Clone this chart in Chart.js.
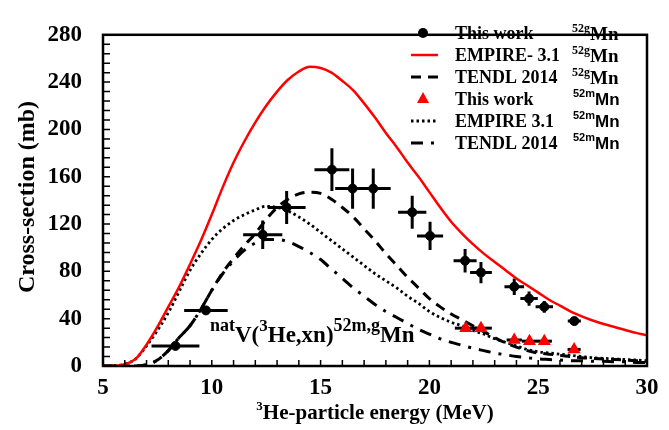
<!DOCTYPE html>
<html>
<head>
  <title>natV(3He,xn)52m,gMn</title>
  <script src="https://cdn.jsdelivr.net/npm/chart.js"></script>
  <style>body { margin: 0; background: #fff; }</style>
</head>
<body>
  <canvas id="chart" width="669" height="430"></canvas>
  <script>
    // energie (MeV) des courbes theoriques
    const energies = [5, 5.5, 6, 6.5, 7, 7.5, 8, 8.5, 9, 9.5, 10, 10.5, 11, 11.5, 12, 12.5, 13, 13.5, 14, 14.5,
      15, 15.5, 16, 16.5, 17, 17.5, 18, 18.5, 19, 19.5, 20, 20.5, 21, 21.5, 22, 22.5, 23, 23.5, 24, 24.5,
      25, 25.5, 26, 26.5, 27, 27.5, 28, 28.5, 29, 29.5, 30];
    const empire52g = [0, 0, 1.5, 6, 18, 33, 50, 67, 86, 106, 128, 151, 172, 190, 206, 220, 232, 242, 249, 253,
      252, 248, 241, 233, 222, 210, 197, 185, 172, 160, 147, 134, 122, 112, 103, 95, 88, 81, 74, 68,
      62, 56, 51, 46, 42, 38.5, 35.5, 33, 30.5, 28, 26];
    const tendl52g = [0, 0, 0, 0, 1, 5, 13, 24, 34, 48, 64, 79, 91, 102, 112, 124, 134, 141, 145.5, 147,
      146, 141, 134, 126, 116, 106, 95, 85, 75, 66, 57, 50, 44, 39, 34, 29, 24, 19.5, 16, 13,
      11, 10, 9, 8, 7, 6.5, 6, 5.5, 5, 4.5, 4];
    const empire52m = [0, 0.3, 1.5, 6, 17, 30, 45, 63, 81, 95, 107, 116, 123, 128, 132, 135, 134, 131, 126, 120,
      113, 106, 99, 92, 85, 78, 72, 66, 59, 53, 46, 41, 37, 34, 30, 27, 23, 20, 17, 14,
      12, 11, 10, 9, 8, 7, 6.5, 6, 5.5, 5, 4.5];
    const tendl52m = [0, 0, 0, 0, 1, 5, 13, 24, 34, 48, 64, 78, 89, 98, 104, 107, 107, 105, 101, 96,
      90, 82, 74, 66, 59, 52, 46, 41, 36, 31, 27, 23, 20, 17.5, 15, 13, 11, 9.5, 8, 7,
      6, 5.5, 5, 4.5, 4.5, 4, 4, 3.5, 3.5, 3, 3];

    // mesures (ce travail)
    const gEnergy = [8.33, 9.73, 12.34, 13.44, 15.52, 16.47, 17.42, 19.21, 20.03, 21.64, 22.37, 23.9, 24.58, 25.28, 26.66];
    const gValue = [17, 47, 111, 134, 166, 150, 150, 130, 110, 89, 79, 67, 57, 50, 38];
    const gEnergyErr = [1.1, 1.0, 0.9, 0.87, 0.8, 0.8, 0.8, 0.65, 0.6, 0.53, 0.5, 0.45, 0.4, 0.4, 0.3];
    const gValueErr = [2, 3, 12, 14, 18, 17, 17, 14, 12, 10, 9, 7, 6, 5, 3];

    const mEnergy = [21.67, 22.37, 23.9, 24.6, 25.28, 26.65];
    const mValue = [32, 32, 22, 21, 21, 14];
    const mEnergyErr = [0.5, 0.5, 0.35, 0.35, 0.35, 0.3];

    const xTicks = [5, 10, 15, 20, 25, 30];
    const yTicks = [0, 40, 80, 120, 160, 200, 240, 280];

    const legendNames = ['This work', 'EMPIRE- 3.1', 'TENDL 2014', 'This work', 'EMPIRE 3.1', 'TENDL 2014'];
    const legendIso = ['52g', '52g', '52g', '52m', '52m', '52m'];

    const SERIF = '"Liberation Serif", "Times New Roman", serif';
    const SANS = '"Liberation Sans", Arial, sans-serif';

    const pts = (xs, ys) => xs.map((x, i) => ({ x: x, y: ys[i] }));

    function drawParts(ctx, x, y, parts) {
      parts.forEach(p => {
        ctx.font = p[1];
        ctx.fillText(p[0], x, y + p[2]);
        x += ctx.measureText(p[0]).width;
      });
      return x;
    }

    const decor = {
      id: 'decor',
      beforeDatasetsDraw(chart) {
        const ctx = chart.ctx, sx = chart.scales.x, sy = chart.scales.y;
        ctx.save();
        ctx.strokeStyle = '#000';
        ctx.lineWidth = 3;
        gEnergy.forEach((e, i) => {
          const px = sx.getPixelForValue(e), py = sy.getPixelForValue(gValue[i]);
          ctx.beginPath();
          ctx.moveTo(sx.getPixelForValue(e - gEnergyErr[i]), py);
          ctx.lineTo(sx.getPixelForValue(e + gEnergyErr[i]), py);
          ctx.moveTo(px, sy.getPixelForValue(gValue[i] - gValueErr[i]));
          ctx.lineTo(px, sy.getPixelForValue(gValue[i] + gValueErr[i]));
          ctx.stroke();
        });
        mEnergy.forEach((e, i) => {
          const py = sy.getPixelForValue(mValue[i]);
          ctx.beginPath();
          ctx.moveTo(sx.getPixelForValue(e - mEnergyErr[i]), py);
          ctx.lineTo(sx.getPixelForValue(e + mEnergyErr[i]), py);
          ctx.stroke();
        });
        ctx.restore();
      },
      afterDraw(chart) {
        const ctx = chart.ctx, a = chart.chartArea, sx = chart.scales.x, sy = chart.scales.y;
        ctx.save();
        // cadre + graduations internes
        ctx.strokeStyle = '#000';
        ctx.lineWidth = 2.5;
        ctx.setLineDash([]);
        ctx.strokeRect(a.left, a.top, a.right - a.left, a.bottom - a.top);
        ctx.lineWidth = 1.5;
        ctx.beginPath();
        for (let v = 6; v < 30; v++) {
          const px = sx.getPixelForValue(v);
          ctx.moveTo(px, a.bottom);
          ctx.lineTo(px, a.bottom - 6);
        }
        for (let v = 8; v < 280; v += 8) {
          const py = sy.getPixelForValue(v);
          ctx.moveTo(a.left, py);
          ctx.lineTo(a.left + 7, py);
        }
        ctx.stroke();

        // legende
        const order = [0, 2, 3, 1, 4, 5];
        ctx.fillStyle = '#000';
        ctx.textBaseline = 'middle';
        legendNames.forEach((name, i) => {
          const y = 33 + i * 22;
          const ds = chart.data.datasets[order[i]];
          if (ds.showLine) {
            ctx.save();
            ctx.strokeStyle = ds.borderColor;
            ctx.lineWidth = ds.borderWidth;
            ctx.setLineDash(ds.borderDash || []);
            ctx.beginPath();
            ctx.moveTo(411, y);
            ctx.lineTo(438, y);
            ctx.stroke();
            ctx.restore();
          } else {
            ctx.save();
            ctx.fillStyle = ds.backgroundColor;
            ctx.beginPath();
            if (ds.pointStyle === 'triangle') {
              ctx.moveTo(423, y - 7);
              ctx.lineTo(429, y + 4);
              ctx.lineTo(417, y + 4);
            } else {
              ctx.arc(423, y, 5, 0, Math.PI * 2);
            }
            ctx.fill();
            ctx.restore();
          }
          ctx.textAlign = 'left';
          ctx.font = 'bold 18px ' + SERIF;
          ctx.fillText(name, 455, y + 1);
          if (i < 3) {
            drawParts(ctx, 572, y + 1, [[legendIso[i], 'bold 12px ' + SERIF, -5], ['Mn', 'bold 19px ' + SERIF, 1]]);
          } else {
            drawParts(ctx, 573, y + 1, [[legendIso[i], 'bold 11px ' + SANS, -6], ['Mn', 'bold 17px ' + SANS, 0]]);
          }
        });

        // reaction
        ctx.textBaseline = 'alphabetic';
        drawParts(ctx, 210, 342, [
          ['nat', 'bold 18px ' + SERIF, -11],
          ['V(', 'bold 23px ' + SERIF, 0],
          ['3', 'bold 17px ' + SERIF, -11],
          ['He,xn)', 'bold 23px ' + SERIF, 0],
          ['52m,g', 'bold 18px ' + SERIF, -11],
          ['Mn', 'bold 23px ' + SERIF, 0]
        ]);

        // titres des axes
        const main = 'He-particle energy (MeV)';
        ctx.font = 'bold 13px ' + SERIF;
        const supW = ctx.measureText('3').width;
        ctx.font = 'bold 21px ' + SERIF;
        const total = supW + ctx.measureText(main).width;
        drawParts(ctx, (a.left + a.right) / 2 - total / 2, 419, [
          ['3', 'bold 13px ' + SERIF, -9],
          [main, 'bold 21px ' + SERIF, 0]
        ]);
        ctx.translate(28, 197);
        ctx.rotate(-Math.PI / 2);
        ctx.textAlign = 'center';
        ctx.textBaseline = 'middle';
        ctx.font = 'bold 24px ' + SERIF;
        ctx.fillText('Cross-section (mb)', 0, 0);
        ctx.restore();
      }
    };

    const ctx = document.getElementById('chart').getContext('2d');
    const chart = new Chart(ctx, {
      type: 'scatter',
      data: {
        datasets: [
          { label: 'This work 52gMn', data: pts(gEnergy, gValue), pointStyle: 'circle', pointRadius: 4.5,
            backgroundColor: '#000', borderColor: '#000', showLine: false },
          { label: 'This work 52mMn', data: pts(mEnergy, mValue), pointStyle: 'triangle', pointRadius: 7.5,
            backgroundColor: '#ff0000', borderColor: '#ff0000', borderWidth: 0, showLine: false },
          { label: 'EMPIRE- 3.1 52gMn', data: pts(energies, empire52g), showLine: true, pointRadius: 0,
            borderColor: '#ff0000', backgroundColor: '#ff0000', borderWidth: 2.5, cubicInterpolationMode: 'monotone' },
          { label: 'TENDL 2014 52gMn', data: pts(energies, tendl52g), showLine: true, pointRadius: 0,
            borderColor: '#000', backgroundColor: '#000', borderWidth: 3, borderDash: [10, 7], cubicInterpolationMode: 'monotone' },
          { label: 'EMPIRE 3.1 52mMn', data: pts(energies, empire52m), showLine: true, pointRadius: 0,
            borderColor: '#000', backgroundColor: '#000', borderWidth: 2.8, borderDash: [2.5, 3], cubicInterpolationMode: 'monotone' },
          { label: 'TENDL 2014 52mMn', data: pts(energies, tendl52m), showLine: true, pointRadius: 0,
            borderColor: '#000', backgroundColor: '#000', borderWidth: 3, borderDash: [12, 8, 3, 8], cubicInterpolationMode: 'monotone' }
        ]
      },
      options: {
        responsive: false,
        animation: false,
        layout: { padding: { top: 18, right: 22, left: 0, bottom: 0 } },
        plugins: { legend: { display: false }, tooltip: { enabled: false } },
        scales: {
          x: {
            type: 'linear', min: 5, max: 30,
            afterFit: s => { s.height = 64; },
            afterBuildTicks: s => { s.ticks = xTicks.map(v => ({ value: v })); },
            grid: { display: false, drawTicks: false },
            border: { display: false },
            ticks: { padding: 8, color: '#000', font: { family: SERIF, size: 23, weight: 'bold' } }
          },
          y: {
            type: 'linear', min: 0, max: 280,
            afterFit: s => { s.width = 103; },
            afterBuildTicks: s => { s.ticks = yTicks.map(v => ({ value: v })); },
            grid: { display: false, drawTicks: false },
            border: { display: false },
            ticks: { padding: 21, color: '#000', font: { family: SERIF, size: 23, weight: 'bold' } }
          }
        }
      },
      plugins: [decor]
    });
  </script>
</body>
</html>
